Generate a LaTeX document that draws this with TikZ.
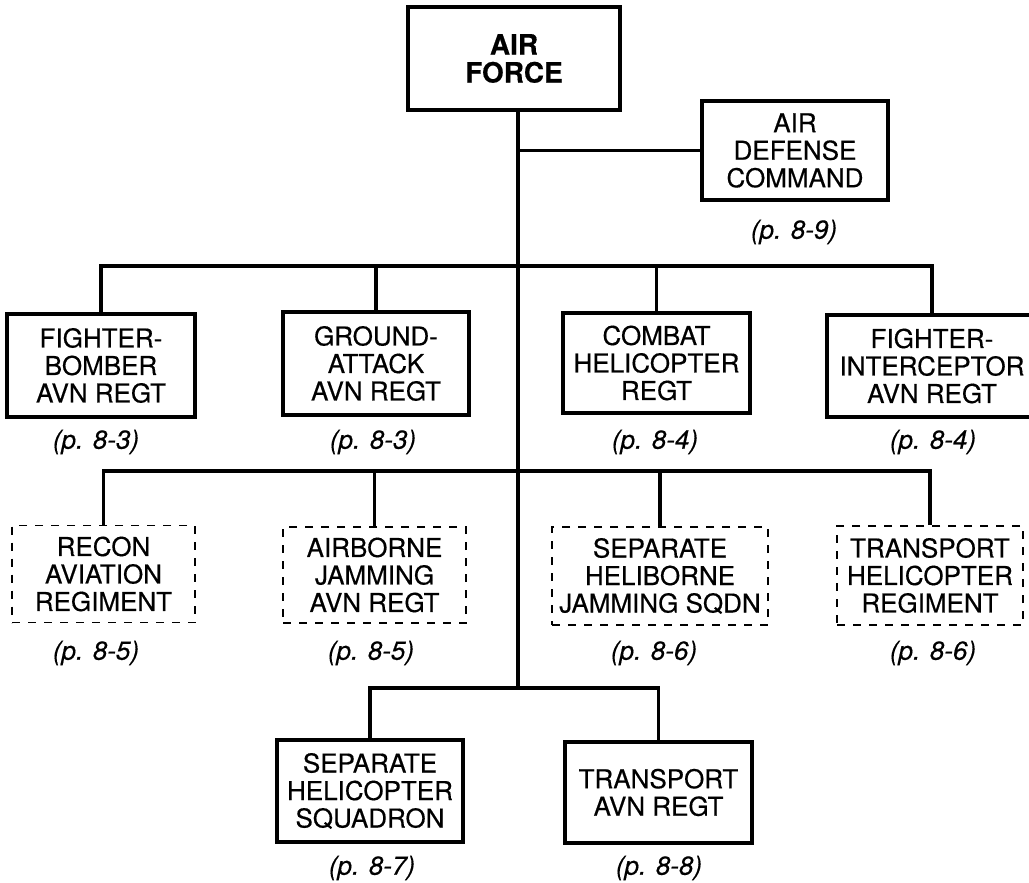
\documentclass[tikz,border=0pt]{standalone}
\usepackage{fontspec}
\setmainfont{TeX Gyre Heros}[FakeBold=0.4]
\begin{document}
\begin{tikzpicture}[x=1pt,y=-1pt,
  line width=3.2pt,
  box/.style={draw, line width=3.2pt, rectangle, inner sep=0pt, align=center,
     font=\fontsize{26}{27.5}\selectfont},
  dbox/.style={draw, line width=1.8pt, dash pattern=on 8pt off 8pt, rectangle, inner sep=0pt, align=center,
     font=\fontsize{26}{27.5}\selectfont},
  lab/.style={inner sep=0pt, font=\fontsize{26}{27.5}\selectfont\itshape},
  conn/.style={line width=3.2pt}
]
\useasboundingbox (0,0) rectangle (1029,883);

% top
\node[box, minimum width=212pt, minimum height=103pt, font=\fontsize{28}{28}\selectfont\bfseries] (af) at (514,58.5) {AIR\\FORCE};
\node[box, minimum width=186pt, minimum height=99pt] (adc) at (795,150.5) {AIR\\DEFENSE\\COMMAND};
\node[lab] (adcl) at (794,232) {(p. 8-9)};

% row 1
\node[box, minimum width=188pt, minimum height=103pt] (fb) at (101,365.5) {FIGHTER-\\BOMBER\\AVN REGT};
\node[box, minimum width=186pt, minimum height=103pt] (ga) at (376,363.5) {GROUND-\\ATTACK\\AVN REGT};
\node[box, minimum width=187pt, minimum height=100pt] (ch) at (656.5,363) {COMBAT\\HELICOPTER\\REGT};
\node[box, minimum width=210pt, minimum height=102pt] (fi) at (932,366) {FIGHTER-\\INTERCEPTOR\\AVN REGT};
\node[lab] (fbl) at (96,442) {(p. 8-3)};
\node[lab] (gal) at (373,442) {(p. 8-3)};
\node[lab] (chl) at (655,442) {(p. 8-4)};
\node[lab] (fil) at (933,442) {(p. 8-4)};

% row 2
\node[dbox, minimum width=183pt, minimum height=97pt] (ra) at (103.5,574) {RECON\\AVIATION\\REGIMENT};
\node[dbox, minimum width=183pt, minimum height=96pt] (aj) at (374.5,575) {AIRBORNE\\JAMMING\\AVN REGT};
\node[dbox, minimum width=216pt, minimum height=98pt] (shj) at (660,576) {SEPARATE\\HELIBORNE\\JAMMING SQDN};
\node[dbox, minimum width=186pt, minimum height=99pt] (th) at (930,575.5) {TRANSPORT\\HELICOPTER\\REGIMENT};
\node[lab] (ral) at (96,653) {(p. 8-5)};
\node[lab] (ajl) at (371,653) {(p. 8-5)};
\node[lab] (shjl) at (654,653) {(p. 8-6)};
\node[lab] (thl) at (933,653) {(p. 8-6)};

% row 3
\node[box, minimum width=186pt, minimum height=102pt] (shs) at (370,791) {SEPARATE\\HELICOPTER\\SQUADRON};
\node[box, minimum width=187pt, minimum height=101pt] (tar) at (658.5,792.5) {TRANSPORT\\AVN REGT};
\node[lab] (shsl) at (372,868) {(p. 8-7)};
\node[lab] (tarl) at (659,868) {(p. 8-8)};

% bus coordinates
\coordinate (b1) at (518,266);
\coordinate (b2) at (518,471);
\coordinate (b3) at (518,688);

% connectors
\draw[conn] (af.south -| b3) -- (b3);
\draw[conn] (adc.west) -- (adc.west -| b3);
\draw[conn] (fb.north) |- (b1) -| (fi.north);
\draw[conn] (ga.north) -- (ga.north |- b1);
\draw[conn] (ch.north) -- (ch.north |- b1);
\draw[conn] (ra.north) |- (b2) -| (th.north);
\draw[conn] (aj.north) -- (aj.north |- b2);
\draw[conn] (shj.north) -- (shj.north |- b2);
\draw[conn] (shs.north) |- (b3) -| (tar.north);
\end{tikzpicture}
\end{document}
